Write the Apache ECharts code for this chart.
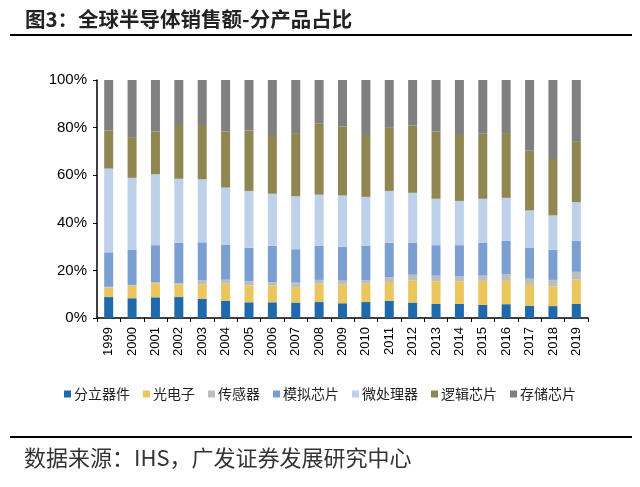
<!DOCTYPE html>
<html>
<head>
<meta charset="utf-8">
<script src="https://cdn.jsdelivr.net/npm/echarts@6/dist/echarts.min.js"></script>
<style>
  html, body { margin: 0; padding: 0; background: #fff; }
  #main { width: 640px; height: 487px; }
</style>
</head>
<body>
<div id="main"></div>
<script>
var years = ["1999", "2000", "2001", "2002", "2003", "2004", "2005", "2006", "2007", "2008", "2009",
  "2010", "2011", "2012", "2013", "2014", "2015", "2016", "2017", "2018", "2019"];

// 各产品占比（%）
var discrete = [8.8, 8.3, 8.7, 8.8, 8.0, 7.3, 6.6, 6.6, 6.5, 6.7, 6.2, 6.7, 7.2, 6.5, 5.9, 6.0, 5.5, 5.8, 5.2, 5.0, 5.9];
var opto = [4.0, 5.3, 5.9, 5.4, 6.2, 7.1, 7.1, 7.1, 6.5, 7.7, 7.8, 7.7, 7.9, 9.3, 9.5, 9.4, 10.1, 9.8, 8.7, 8.3, 10.2];
var sensor = [0.3, 0.3, 0.4, 0.4, 1.6, 1.7, 1.7, 1.3, 1.9, 1.6, 1.7, 1.4, 2.0, 2.4, 2.4, 2.1, 2.2, 2.8, 2.6, 2.7, 3.3];
var analog = [14.5, 14.7, 15.6, 17.0, 16.0, 14.6, 14.1, 15.3, 14.0, 14.3, 14.2, 14.5, 14.5, 13.5, 12.8, 13.1, 13.8, 14.1, 13.1, 12.6, 13.1];
var micro = [35.2, 30.3, 29.8, 26.9, 26.5, 24.1, 23.9, 21.9, 22.3, 21.5, 21.6, 20.6, 21.8, 20.9, 19.5, 18.6, 18.5, 18.0, 15.6, 14.5, 16.2];
var logic = [16.0, 17.1, 18.0, 22.6, 22.8, 23.6, 25.4, 24.7, 26.5, 30.0, 29.0, 26.0, 26.5, 28.3, 28.3, 27.7, 27.3, 27.2, 25.1, 23.7, 25.6];
var memory = [21.2, 24.0, 21.6, 18.9, 18.9, 21.6, 21.2, 23.1, 22.3, 18.2, 19.5, 23.1, 20.1, 19.1, 21.6, 23.1, 22.6, 22.3, 29.7, 33.2, 25.7];

var names = ["分立器件", "光电子", "传感器", "模拟芯片", "微处理器", "逻辑芯片", "存储芯片"];
var colors = ["#1f6aad", "#ebc65c", "#bdbdbd", "#7b9fd1", "#bdd1ea", "#8f8652", "#808080"];
var values = [discrete, opto, sensor, analog, micro, logic, memory];

var chartDom = document.getElementById("main");
var myChart = echarts.init(chartDom);
var option;

var series = names.map(function (n, i) {
  return {
    name: n,
    type: "bar",
    stack: "total",
    barWidth: 9,
    itemStyle: { color: colors[i] },
    data: values[i],
  };
});

option = {
  animation: false,
  textStyle: { fontFamily: "Arial, 'Liberation Sans', 'Noto Sans CJK SC'" },
  title: {
    text: "图3：全球半导体销售额-分产品占比",
    left: 20,
    top: 4,
    textStyle: {
      fontSize: 20.5,
      fontWeight: "bold",
      color: "#222",
      fontFamily: "'Noto Sans CJK SC'",
    },
  },
  graphic: [
    {
      type: "line",
      shape: { x1: 10, y1: 35, x2: 632, y2: 35 },
      style: { stroke: "#000", lineWidth: 2 },
    },
    {
      type: "line",
      shape: { x1: 10, y1: 437, x2: 632, y2: 437 },
      style: { stroke: "#000", lineWidth: 2 },
    },
    {
      type: "text",
      left: 24,
      top: 447,
      style: {
        text: "数据来源：IHS，广发证券发展研究中心",
        font: "22px 'Noto Sans CJK SC'",
        fill: "#333",
      },
    },
  ],
  legend: {
    top: 382,
    left: "center",
    icon: "rect",
    itemWidth: 7,
    itemHeight: 7,
    itemGap: 13,
    textStyle: {
      fontSize: 14,
      color: "#222",
      fontFamily: "'Noto Sans CJK SC'",
      padding: [0, 0, 0, -2],
    },
    data: names,
  },
  grid: {
    left: 97,
    right: 52,
    top: 80,
    bottom: 169,
    containLabel: false,
  },
  xAxis: {
    type: "category",
    data: years,
    axisLine: { lineStyle: { color: "#000", width: 1.5 } },
    axisTick: { show: true, length: 4, lineStyle: { color: "#000" } },
    axisLabel: {
      rotate: 90,
      fontSize: 13,
      color: "#000",
      margin: 9,
      interval: 0,
    },
  },
  yAxis: {
    type: "value",
    min: 0,
    max: 100,
    interval: 20,
    axisLine: { show: true, lineStyle: { color: "#000", width: 1.5 } },
    axisTick: { show: true, length: 4, lineStyle: { color: "#000" } },
    splitLine: { show: false },
    axisLabel: {
      formatter: "{value}%",
      fontSize: 15,
      color: "#000",
      margin: 10,
    },
  },
  series: series,
};

option && myChart.setOption(option);
</script>
</body>
</html>
